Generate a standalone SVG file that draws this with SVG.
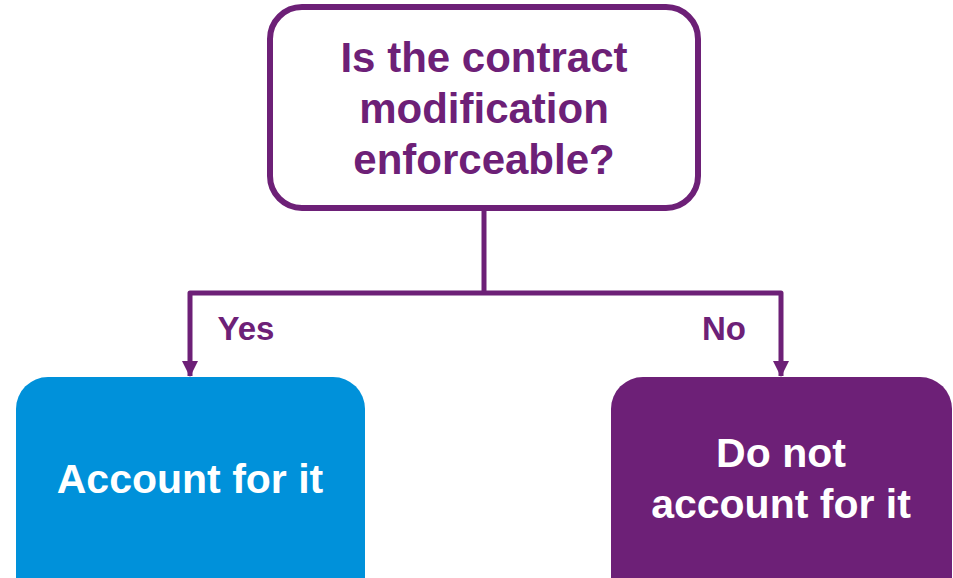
<svg xmlns="http://www.w3.org/2000/svg" width="953" height="578" viewBox="0 0 953 578">
<style>
.t{font-family:"Liberation Sans",Arial,sans-serif;font-weight:bold;text-anchor:middle}
.q{fill:#6D2077;font-size:42px}
.w{fill:#ffffff;font-size:41px}
.lbl{fill:#6D2077;font-size:33px}
.c{fill:none;stroke:#6D2077;stroke-width:5;stroke-linejoin:round}
</style>
<defs>
<marker id="ah" markerUnits="userSpaceOnUse" markerWidth="16" markerHeight="16" refX="15" refY="8" orient="auto" viewBox="0 0 16 16">
<path d="M0,0 L16,8 L0,16 Z" fill="#6D2077"/>
</marker>
</defs>
<rect width="953" height="578" fill="#ffffff"/>
<g id="connectors">
<path class="c" d="M484,210 L484,293"/>
<path class="c" d="M484,293 L190,293 L190,376" marker-end="url(#ah)"/>
<path class="c" d="M484,293 L781,293 L781,376" marker-end="url(#ah)"/>
<text class="t lbl" x="246" y="340">Yes</text>
<text class="t lbl" x="724" y="340">No</text>
</g>
<g id="question">
<rect x="270" y="7" width="428" height="201" rx="32" fill="#ffffff" stroke="#6D2077" stroke-width="6"/>
<text class="t q" x="484" y="72">Is the contract</text>
<text class="t q" x="484" y="123">modification</text>
<text class="t q" x="484" y="174">enforceable?</text>
</g>
<g id="yes">
<rect x="16" y="377" width="349" height="240" rx="32" fill="#0091DA"/>
<text class="t w" x="190" y="493">Account for it</text>
</g>
<g id="no">
<rect x="611" y="377" width="341" height="240" rx="32" fill="#6D2077"/>
<text class="t w" x="781" y="467">Do not</text>
<text class="t w" x="781" y="518">account for it</text>
</g>
</svg>
